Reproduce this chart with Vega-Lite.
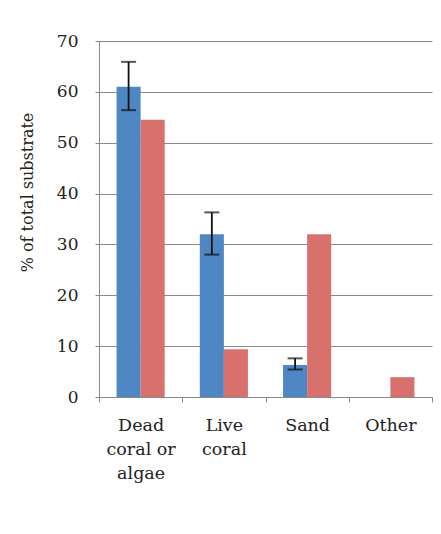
{
  "$schema": "https://vega.github.io/schema/vega-lite/v6.json",
  "autosize": {"type": "none"},
  "width": 333,
  "height": 356,
  "padding": {"left": 99, "top": 41, "right": 9, "bottom": 137},
  "background": "white",
  "config": {
    "view": {"stroke": null},
    "font": "DejaVu Serif"
  },
  "data": {
    "values": [
      {"substrate": "Dead coral or algae", "series": "Series 1", "value": 61.0, "low": 56.4, "high": 65.9},
      {"substrate": "Dead coral or algae", "series": "Series 2", "value": 54.5},
      {"substrate": "Live coral", "series": "Series 1", "value": 32.0, "low": 28.0, "high": 36.3},
      {"substrate": "Live coral", "series": "Series 2", "value": 9.4},
      {"substrate": "Sand", "series": "Series 1", "value": 6.3, "low": 5.4, "high": 7.6},
      {"substrate": "Sand", "series": "Series 2", "value": 32.0},
      {"substrate": "Other", "series": "Series 1", "value": 0},
      {"substrate": "Other", "series": "Series 2", "value": 3.9}
    ]
  },
  "encoding": {
    "x": {
      "field": "substrate",
      "type": "nominal",
      "sort": ["Dead coral or algae", "Live coral", "Sand", "Other"],
      "scale": {"paddingInner": 0, "paddingOuter": 0},
      "axis": {
        "title": null,
        "labelAngle": 0,
        "labelFont": "DejaVu Serif",
        "labelFontSize": 17.5,
        "labelColor": "#222",
        "labelBaseline": "top",
        "labelLineHeight": 24,
        "labelPadding": 14,
        "tickBand": "extent",
        "tickSize": 5,
        "tickColor": "#888",
        "domainColor": "#888",
        "labelExpr": "datum.value == 'Dead coral or algae' ? ['Dead', 'coral or', 'algae'] : datum.value == 'Live coral' ? ['Live', 'coral'] : datum.value"
      }
    },
    "xOffset": {
      "field": "series",
      "type": "nominal",
      "scale": {"paddingInner": 0, "paddingOuter": 0.73}
    }
  },
  "layer": [
    {
      "mark": {"type": "bar"},
      "encoding": {
        "y": {
          "field": "value",
          "type": "quantitative",
          "scale": {"domain": [0, 70]},
          "axis": {
            "title": "% of total substrate",
            "titleFont": "DejaVu Serif",
            "titleFontSize": 16,
            "titleFontWeight": "normal",
            "titleColor": "#222",
            "titleX": -72,
            "titleY": 151,
            "titleAngle": -90,
            "titleBaseline": "middle",
            "values": [0, 10, 20, 30, 40, 50, 60, 70],
            "labelFont": "DejaVu Serif",
            "labelFontSize": 17,
            "labelColor": "#222",
            "labelPadding": 17,
            "tickSize": 4,
            "tickColor": "#888",
            "domainColor": "#888",
            "grid": true,
            "gridColor": "#8c8c8c",
            "gridWidth": 1.2
          }
        },
        "color": {
          "field": "series",
          "type": "nominal",
          "scale": {"domain": ["Series 1", "Series 2"], "range": ["#4F86C4", "#D8716D"]},
          "legend": null
        }
      }
    },
    {
      "transform": [{"filter": "isValid(datum.low)"}],
      "mark": {"type": "rule", "color": "#111", "strokeWidth": 1.8},
      "encoding": {
        "y": {"field": "low", "type": "quantitative"},
        "y2": {"field": "high"}
      }
    },
    {
      "transform": [{"filter": "isValid(datum.low)"}],
      "mark": {"type": "tick", "color": "#111", "size": 15, "thickness": 2},
      "encoding": {
        "y": {"field": "low", "type": "quantitative"}
      }
    },
    {
      "transform": [{"filter": "isValid(datum.low)"}],
      "mark": {"type": "tick", "color": "#111", "size": 15, "thickness": 2},
      "encoding": {
        "y": {"field": "high", "type": "quantitative"}
      }
    }
  ]
}
